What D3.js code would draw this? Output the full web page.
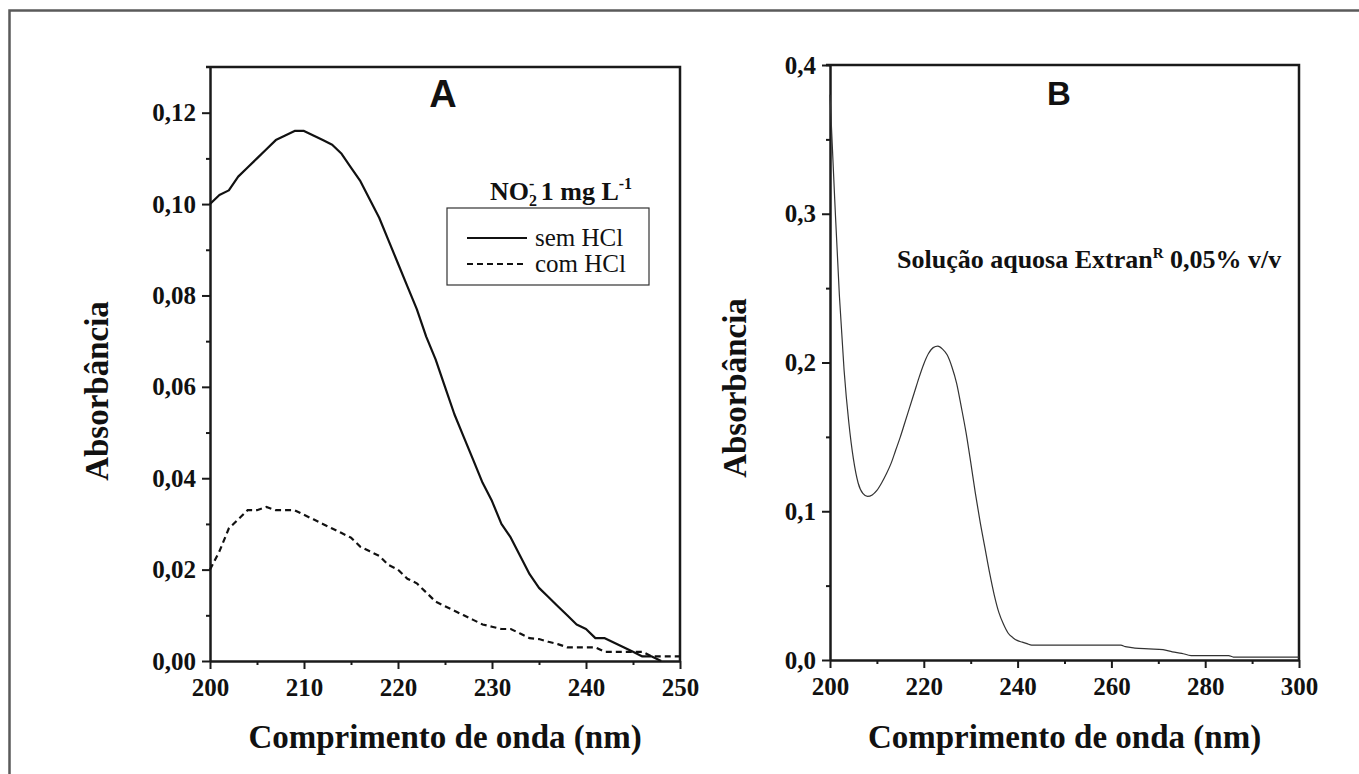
<!DOCTYPE html>
<html><head><meta charset="utf-8">
<script src="https://cdn.jsdelivr.net/npm/d3@7"></script>
<style>
html,body{margin:0;padding:0;background:#fff;}
svg{display:block;}
</style></head>
<body>
<svg id="c" width="1359" height="774"></svg>
<script>
// ---------- DATA ----------
// Panel A: nitrite 1 mg/L spectra
const wavelengthsA = [200,201,202,203,204,205,206,207,208,209,210,211,212,213,214,215,216,217,218,219,220,221,222,223,224,225,226,227,228,229,230,231,232,233,234,235,236,237,238,239,240,241,242,243,244,245,246,247,248,249,250];
const semHCl = [0.100,0.102,0.103,0.106,0.108,0.110,0.112,0.114,0.115,0.116,0.116,0.115,0.114,0.113,0.111,0.108,0.105,0.101,0.097,0.092,0.087,0.082,0.077,0.071,0.066,0.060,0.054,0.049,0.044,0.039,0.035,0.030,0.027,0.023,0.019,0.016,0.014,0.012,0.010,0.008,0.007,0.005,0.005,0.004,0.003,0.002,0.001,0.001,0.000,null,null];
const comHCl = [0.020,0.024,0.029,0.031,0.033,0.033,0.0337,0.033,0.033,0.033,0.032,0.031,0.030,0.029,0.028,0.027,0.025,0.024,0.023,0.021,0.020,0.018,0.017,0.015,0.013,0.012,0.011,0.010,0.009,0.008,0.0075,0.007,0.007,0.006,0.005,0.0048,0.0042,0.0037,0.003,0.003,0.003,0.003,0.002,0.002,0.002,0.002,0.002,0.001,0.001,0.001,0.001];
// Panel B: Extran 0.05% v/v
const wavelengthsB = [200,201,202,203,204,205,206,207,208,209,210,211,212,213,214,215,216,217,218,219,220,221,222,223,224,225,226,227,228,229,230,231,232,233,234,235,236,237,238,239,240,241,242,243,250,255,262,263,264,265,268,271,273,275,277,285,286,300];
const extran = [0.380,0.310,0.245,0.195,0.160,0.135,0.119,0.112,0.110,0.111,0.114,0.119,0.125,0.132,0.141,0.150,0.160,0.170,0.180,0.190,0.199,0.206,0.210,0.211,0.209,0.205,0.197,0.186,0.170,0.153,0.133,0.112,0.093,0.076,0.059,0.044,0.032,0.024,0.018,0.015,0.013,0.012,0.011,0.010,0.010,0.010,0.010,0.009,0.0085,0.008,0.0075,0.007,0.0055,0.0045,0.003,0.003,0.002,0.002];
// Ticks
const xTicksA = [200,210,220,230,240,250];
const xMinorA = [205,215,225,235,245];
const yTicksA = [0,0.02,0.04,0.06,0.08,0.10,0.12];
const yMinorA = [0.01,0.03,0.05,0.07,0.09,0.11];
const xTicksB = [200,220,240,260,280,300];
const xMinorB = [210,230,250,270,290];
const yTicksB = [0,0.1,0.2,0.3,0.4];
const yMinorB = [0.05,0.15,0.25,0.35];
// Texts
const xTitle = "Comprimento de onda (nm)";
const yTitle = "Absorbância";
const legendLabels = ["sem HCl","com HCl"];
const noteB = "Solução aquosa Extran";

// ---------- DRAW ----------
const svg = d3.select("#c");
const SERIF = "'Liberation Serif','Times New Roman',serif";
const SANS = "'Liberation Sans',Arial,sans-serif";
const AX = "#1a1a1a";

svg.append("path").attr("d","M9.5,774V10.5H1359").attr("fill","none").attr("stroke","#5a5a5a").attr("stroke-width",2.5);

function comma(fmt){const f=d3.format(fmt);return d=>f(d).replace(".",",");}

function panel(cfg){
  const g = svg.append("g");
  const x = d3.scaleLinear().domain(cfg.xd).range([cfg.l,cfg.r]);
  const y = d3.scaleLinear().domain(cfg.yd).range([cfg.b,cfg.t]);
  g.append("path").attr("d",`M${cfg.l-4},${cfg.t}H${cfg.r}V${cfg.b}`).attr("fill","none").attr("stroke",AX).attr("stroke-width",2.5);
  g.append("g").attr("transform",`translate(0,${cfg.b})`).call(d3.axisBottom(x).tickValues(cfg.xm).tickSize(4).tickFormat(""))
    .call(s=>{s.select(".domain").remove();s.selectAll("line").attr("stroke",AX).attr("stroke-width",2);});
  g.append("g").attr("transform",`translate(${cfg.l},0)`).call(d3.axisLeft(y).tickValues(cfg.ym).tickSize(4).tickFormat(""))
    .call(s=>{s.select(".domain").remove();s.selectAll("line").attr("stroke",AX).attr("stroke-width",2);});
  const gx = g.append("g").attr("transform",`translate(0,${cfg.b})`).call(d3.axisBottom(x).tickValues(cfg.xt).tickSize(8).tickSizeOuter(0).tickPadding(8).tickFormat(d3.format("d")));
  const gy = g.append("g").attr("transform",`translate(${cfg.l},0)`).call(d3.axisLeft(y).tickValues(cfg.yt).tickSize(8).tickSizeOuter(0).tickPadding(6).tickFormat(comma(cfg.yf)));
  [gx,gy].forEach(a=>{
    a.select(".domain").attr("stroke",AX).attr("stroke-width",2.5);
    a.selectAll(".tick line").attr("stroke",AX).attr("stroke-width",2);
    a.selectAll(".tick text").attr("fill","#111").style("font-family",SERIF).style("font-weight","bold").style("font-size","25px");
  });
  gx.selectAll(".tick text").attr("dy","0.75em");
  g.append("text").attr("x",(cfg.l+cfg.r)/2).attr("y",748).attr("text-anchor","middle")
    .style("font-family",SERIF).style("font-weight","bold").style("font-size","33px").attr("fill","#111").text(xTitle);
  g.append("text").attr("transform",`translate(${cfg.yx},${cfg.yc}) rotate(-90)`).attr("text-anchor","middle")
    .style("font-family",SERIF).style("font-weight","bold").style("font-size","33px").attr("fill","#111").text(yTitle);
  g.append("text").attr("x",cfg.letterX).attr("y",cfg.letterY).attr("text-anchor","middle")
    .style("font-family",SANS).style("font-weight","bold").style("font-size",cfg.letterSize+"px").attr("fill","#111").text(cfg.letter);
  return {g,x,y};
}

// Panel A
const A = panel({xd:[200,250],yd:[0,0.13],l:210,r:680,t:67,b:661,xt:xTicksA,xm:xMinorA,yt:yTicksA,ym:yMinorA,yf:".2f",yx:108,yc:391,letter:"A",letterX:443,letterY:107,letterSize:38});
const lineA = d3.line().defined(d=>d[1]!=null).x(d=>A.x(d[0])).y(d=>A.y(d[1]));
A.g.append("path").attr("d",lineA(wavelengthsA.map((w,i)=>[w,semHCl[i]]))).attr("fill","none").attr("stroke","#111").attr("stroke-width",2.2).attr("stroke-linejoin","round");
A.g.append("path").attr("d",lineA(wavelengthsA.map((w,i)=>[w,comHCl[i]]))).attr("fill","none").attr("stroke","#111").attr("stroke-width",2.2).attr("stroke-dasharray","6,4");

// Legend A
const lg = A.g.append("g");
lg.append("rect").attr("x",447).attr("y",208).attr("width",202).attr("height",77).attr("fill","none").attr("stroke","#333").attr("stroke-width",1.2);
const lt = lg.append("text").attr("x",561).attr("y",200).attr("text-anchor","middle").style("font-family",SERIF).style("font-weight","bold").style("font-size","26px").attr("fill","#111");
lt.append("tspan").text("NO");
lt.append("tspan").attr("dy",6).style("font-size","16px").text("2");
lt.append("tspan").attr("dx",-8).attr("dy",-17).style("font-size","16px").text("-");
lt.append("tspan").attr("dy",11).text(" 1 mg L");
lt.append("tspan").attr("dy",-11).style("font-size","16px").text("-1");
[0,1].forEach(i=>{
  const yy = 238 + i*26;
  lg.append("line").attr("x1",467).attr("x2",527).attr("y1",yy).attr("y2",yy).attr("stroke","#111").attr("stroke-width",2).attr("stroke-dasharray",i?"6,4":null);
  lg.append("text").attr("x",535).attr("y",yy+8).style("font-family",SERIF).style("font-size","25px").attr("fill","#111").text(legendLabels[i]);
});

// Panel B
const B = panel({xd:[200,300],yd:[0,0.4],l:830,r:1299,t:65,b:660,xt:xTicksB,xm:xMinorB,yt:yTicksB,ym:yMinorB,yf:".1f",yx:746,yc:388,letter:"B",letterX:1059,letterY:105,letterSize:33});
const lineB = d3.line().curve(d3.curveMonotoneX).x(d=>B.x(d[0])).y(d=>B.y(d[1]));
B.g.append("path").attr("d",lineB(wavelengthsB.map((w,i)=>[w,extran[i]]))).attr("fill","none").attr("stroke","#333").attr("stroke-width",1.2);
const nt = B.g.append("text").attr("x",897).attr("y",268).style("font-family",SERIF).style("font-weight","bold").style("font-size","26px").attr("fill","#111");
nt.append("tspan").text(noteB);
nt.append("tspan").attr("dy",-10).style("font-size","15px").text("R");
nt.append("tspan").attr("dy",10).text(" 0,05% v/v");
</script>
</body></html>
